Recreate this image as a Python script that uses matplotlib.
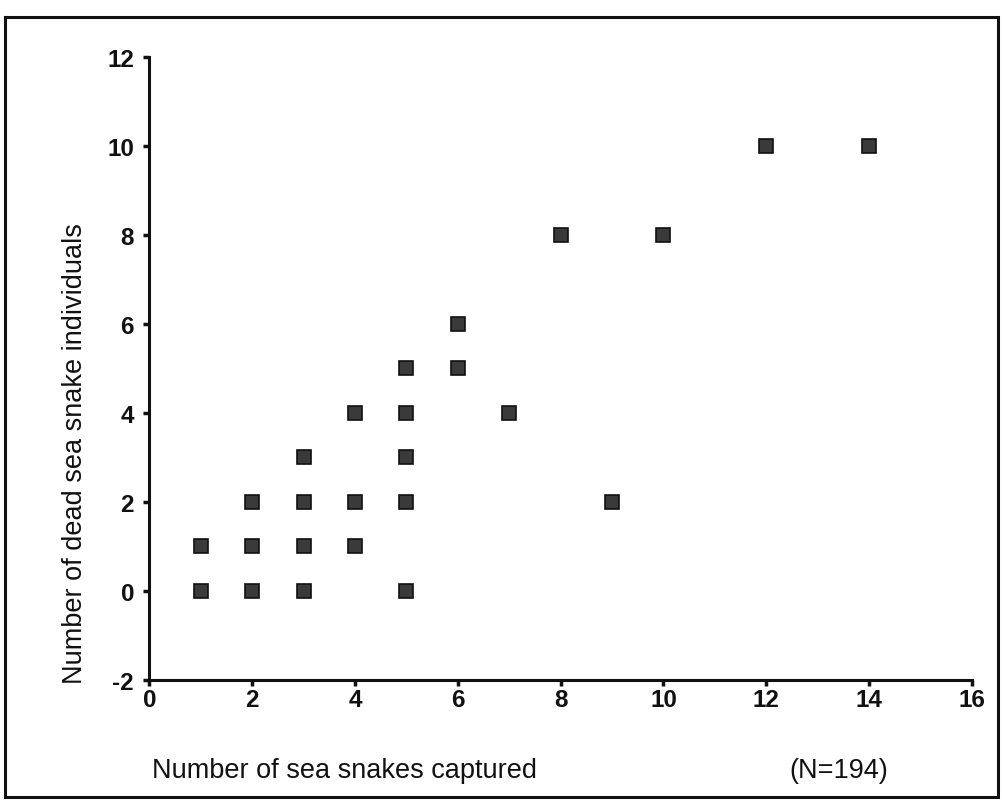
import matplotlib
matplotlib.use("Agg")
import matplotlib.pyplot as plt
from matplotlib.patches import Rectangle
from matplotlib.ticker import FuncFormatter

plt.rcParams['font.family'] = ['Liberation Sans', 'DejaVu Sans']

# captured vs dead, one square per observation
captured = [1, 1, 2, 2, 2, 3, 3, 3, 3, 4, 4, 4, 5, 5, 5, 5, 5, 6, 6, 7, 8, 9, 10, 12, 14]
dead = [1, 0, 2, 1, 0, 3, 2, 1, 0, 4, 2, 1, 5, 4, 3, 2, 0, 6, 5, 4, 8, 2, 8, 10, 10]

xticks = [0, 2, 4, 6, 8, 10, 12, 14, 16]
yticks = [-2, 0, 2, 4, 6, 8, 10, 12]

fig = plt.figure(figsize=(10.02, 8.03), dpi=100)
ax = fig.add_axes([0.149, 0.152, 0.821, 0.776])

ax.plot(captured, dead, linestyle='none', marker='s', markersize=10,
        markerfacecolor='#3a3a3a', markeredgecolor='#111111', markeredgewidth=1.2)

ax.set_xlim(0, 16)
ax.set_ylim(-2, 12)
ax.set_xticks(xticks)
ax.set_yticks(yticks)
ax.yaxis.set_major_formatter(FuncFormatter(lambda v, p: '%d' % v))
ax.spines['top'].set_visible(False)
ax.spines['right'].set_visible(False)
for s in ('left', 'bottom'):
    ax.spines[s].set_linewidth(2.2)
    ax.spines[s].set_color('#111111')
ax.tick_params(direction='out', length=4, width=2.5, colors='#111111',
               labelsize=17.5)
ax.tick_params(axis='x', pad=2)
ax.tick_params(axis='y', pad=7)
for lbl in ax.get_xticklabels() + ax.get_yticklabels():
    lbl.set_fontweight('bold')

fig.text(0.152, 0.040, 'Number of sea snakes captured', fontsize=19.5,
         ha='left', va='center', color='#111111')
fig.text(0.788, 0.040, '(N=194)', fontsize=19.5, ha='left', va='center',
         color='#111111')
fig.text(0.075, 0.435, 'Number of dead sea snake individuals', fontsize=19.5,
         rotation=90, ha='center', va='center', color='#111111')

# outer box
fig.patches.append(Rectangle((0.005, 0.006), 0.991, 0.972, transform=fig.transFigure,
                             fill=False, linewidth=2.2, edgecolor='#111111'))

fig.savefig('out.png', dpi=100)
